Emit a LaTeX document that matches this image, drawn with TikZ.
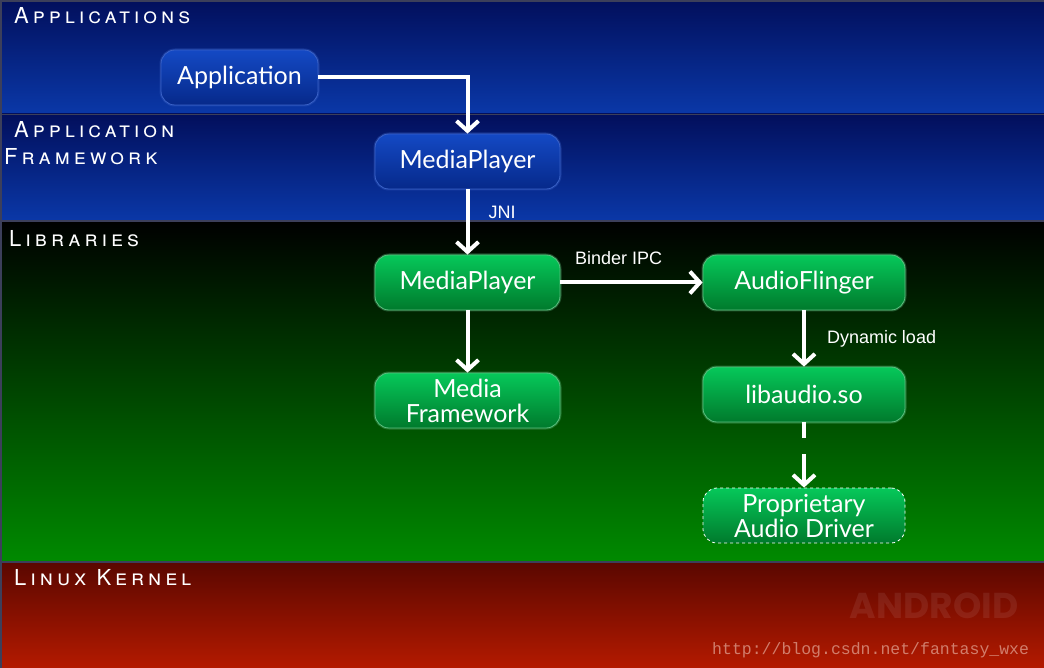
\documentclass[tikz,border=0pt]{standalone}
\usepackage{fontspec}
\setmainfont{Lato}
\newfontfamily\lblfont{Liberation Sans}
\newfontfamily\secfont[Letters=SmallCaps,LetterSpace=18]{TeX Gyre Heros}
\newfontfamily\urlfont{Liberation Mono}
\newfontfamily\logofont{Poppins}
\usetikzlibrary{arrows.meta}
\definecolor{appTop}{HTML}{020F5C}
\definecolor{appBot}{HTML}{0A38A8}
\definecolor{libTop}{HTML}{000000}
\definecolor{libBot}{HTML}{008A00}
\definecolor{kerTop}{HTML}{5A0700}
\definecolor{kerBot}{HTML}{B41A00}
\definecolor{bandLine}{HTML}{3C3F5A}
\definecolor{blueTop}{HTML}{1449C4}
\definecolor{blueBot}{HTML}{06298A}
\definecolor{blueEdge}{HTML}{3A62C8}
\definecolor{greenTop}{HTML}{06C85A}
\definecolor{greenBot}{HTML}{007A2C}
\definecolor{greenEdge}{HTML}{5CC080}
\definecolor{urlCol}{HTML}{E0A090}
\tikzset{
  bandline/.style={draw=bandLine, line width=1.6pt},
  seclabel/.style={text=white, font=\secfont\fontsize{22}{27}\selectfont, inner sep=0pt},
  boxbase/.style={rounded corners=14pt, text=white, inner sep=0pt,
    font=\fontsize{25}{25}\selectfont, align=center, minimum height=55pt},
  bluebox/.style={boxbase, top color=blueTop, bottom color=blueBot, draw=blueEdge, line width=0.8pt,
    preaction={draw=blueEdge, line width=3pt, opacity=0.35}},
  greenbox/.style={boxbase, top color=greenTop, bottom color=greenBot, draw=greenEdge, line width=0.8pt,
    preaction={draw=greenEdge, line width=3pt, opacity=0.35}},
  arr/.style={draw=white, line width=4pt, -{Straight Barb[length=10pt,width=22pt]}},
  lbl/.style={text=white, font=\lblfont\fontsize{18}{20}\selectfont, inner sep=0pt}
}
\begin{document}
\begin{tikzpicture}[x=1pt,y=-1pt]
\useasboundingbox (0,0) rectangle (1044,668);
% bands
\fill[top color=appTop, bottom color=appBot] (0,0) rectangle (1044,114);
\fill[top color=appTop, bottom color=appBot] (0,114) rectangle (1044,221);
\fill[top color=libTop, bottom color=libBot] (0,221) rectangle (1044,562);
\fill[top color=kerTop, bottom color=kerBot] (0,562) rectangle (1044,668);
\draw[bandline] (0,114.5) -- (1044,114.5);
\draw[bandline] (0,221) -- (1044,221);
\draw[bandline] (0,562) -- (1044,562);
\draw[bandline] (0.8,0) -- (0.8,668);
\draw[bandline] (0,0.8) -- (1044,0.8);
% watermark
\node[text=white, opacity=0.08, font=\logofont\bfseries\fontsize{36}{36}\selectfont, inner sep=0pt] (logo) at (934,606) {ANDROID};
\node[text=urlCol, opacity=0.75, font=\urlfont\fontsize{16.5}{18}\selectfont, anchor=base west, inner sep=0pt] (url) at (712,654) {http://blog.csdn.net/fantasy\_wxe};
% section labels
\node[seclabel, anchor=base west] (s1) at (14,24) {Applications};
\node[seclabel, anchor=base west] (s2a) at (14,138) {Application};
\node[seclabel, anchor=base west] (s2b) at (4,165) {Framework};
\node[seclabel, anchor=base west] (s3) at (9,247) {Libraries};
\node[seclabel, anchor=base west] (s4) at (14,585) {Linux Kernel};
% boxes
\node[bluebox, minimum width=157pt] (app) at (239.5,77.5) {Application};
\node[bluebox, minimum width=185pt] (mp1) at (467.5,161.5) {MediaPlayer};
\node[greenbox, minimum width=185pt] (mp2) at (467.5,282.5) {MediaPlayer};
\node[greenbox, minimum width=202pt] (af) at (804,282.5) {AudioFlinger};
\node[greenbox, minimum width=185pt] (mf) at (467.5,400.5) {Media\\Framework};
\node[greenbox, minimum width=202pt] (lib) at (804,394.5) {libaudio.so};
\node[boxbase, top color=greenTop, bottom color=greenBot, draw=white, line width=0.8pt, dashed, minimum width=202pt] (drv) at (804,515.5) {Proprietary\\Audio Driver};
% arrows
\draw[arr] (app.east) -| (mp1.north);
\draw[arr] (mp1.south) -- node[lbl, pos=0.35, anchor=west, xshift=19pt] {JNI} (mp2.north);
\draw[arr] (mp2.east) -- node[lbl, pos=0.41, yshift=24pt] {Binder IPC} (af.west);
\draw[arr] (mp2.south) -- (mf.north);
\draw[arr] (af.south) -- node[lbl, midway, anchor=west, xshift=21pt] {Dynamic load} (lib.north);
\draw[arr, dash pattern=on 16pt off 16pt on 60pt] (lib.south) -- (drv.north);
\end{tikzpicture}
\end{document}
